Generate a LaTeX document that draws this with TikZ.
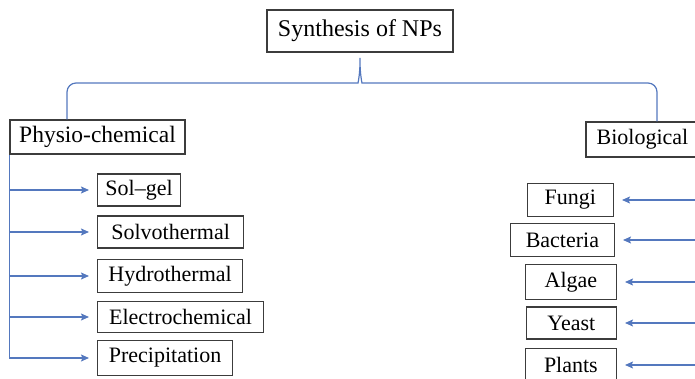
\documentclass[tikz,border=0pt]{standalone}
\usepackage{fontspec}
\setmainfont{Liberation Serif}
\usetikzlibrary{arrows.meta}
\definecolor{linkblue}{RGB}{84,120,190}
\definecolor{boxgray}{RGB}{60,60,60}
\tikzset{
  box/.style={draw=boxgray, line width=1.2pt, inner sep=0pt, minimum height=33pt, font=\fontsize{22}{24}\selectfont},
  link/.style={draw=linkblue, line width=1.2pt},
  arr/.style={link, -{Stealth[length=8pt,width=7pt,inset=1.5pt]}, shorten >=8pt}
}
\begin{document}
\begin{tikzpicture}[x=1pt,y=-1pt]
\clip (0,0) rectangle (695,379);

\node[box, minimum width=186pt, minimum height=42pt, font=\fontsize{24}{26}\selectfont] (tt) at (360,31) {Synthesis of NPs};
\node[box, minimum width=175pt, minimum height=34pt, font=\fontsize{23.5}{26}\selectfont] (pc) at (97.5,137) {Physio-chemical};
\node[box, minimum width=113pt, minimum height=35pt] (bio) at (642.5,139.5) {Biological};

% physio-chemical methods
\node[box, anchor=west, minimum width=83pt, minimum height=32pt] (m1) at (97,190) {Sol--gel};
\node[box, anchor=west, minimum width=146pt, minimum height=32pt] (m2) at (97,232) {Solvothermal};
\node[box, anchor=west, minimum width=145pt] (m3) at (97,276) {Hydrothermal};
\node[box, anchor=west, minimum width=166pt, minimum height=31pt] (m4) at (97,317) {Electrochemical};
\node[box, anchor=west, minimum width=135pt, minimum height=35pt] (m5) at (97,358) {Precipitation};

% biological sources
\node[box, anchor=east, minimum width=86pt] (b1) at (614,200) {Fungi};
\node[box, anchor=east, minimum width=104pt] (b2) at (615,240) {Bacteria};
\node[box, anchor=east, minimum width=91pt, minimum height=35pt] (b3) at (617,282) {Algae};
\node[box, anchor=east, minimum width=90pt, minimum height=32pt] (b4) at (617,323) {Yeast};
\node[box, anchor=east, minimum width=91pt] (b5) at (617,365) {Plants};

% brace
\draw[link, rounded corners=9pt] ([xshift=-30.5pt]pc.north) |- (349,83)
  .. controls (358,83) and (360,74) .. (tt.south)
  .. controls (360,74) and (362,83) .. (371,83)
  -| ([xshift=14.5pt]bio.north);

\draw[link] (pc.south west) -- (pc.south west |- m5.west);
\foreach \n in {m1,m2,m3,m4,m5}
  \draw[arr] (pc.south west |- \n.west) -- (\n.west);

\draw[link] (bio.south east) -- (bio.south east |- b5.east);
\foreach \n in {b1,b2,b3,b4,b5}
  \draw[arr] (bio.south east |- \n.east) -- (\n.east);

\end{tikzpicture}
\end{document}
